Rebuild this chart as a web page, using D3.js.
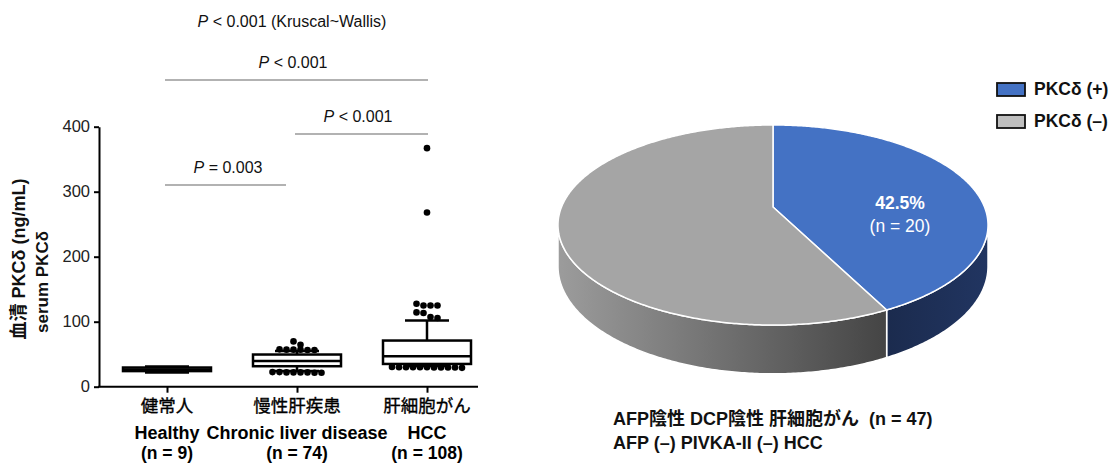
<!DOCTYPE html>
<html>
<head>
<meta charset="utf-8">
<script src="https://cdn.jsdelivr.net/npm/d3@7"></script>
<style>
  body { margin: 0; background: #fff; }
  svg { display: block; font-family: "Liberation Sans", Arial, "Noto Sans CJK JP", sans-serif; }
</style>
</head>
<body>
<div id="chart"></div>
<script>
// ---- data ----
var groups = ['Healthy', 'Chronic liver disease', 'HCC'];
var groupsJa = ['健常人', '慢性肝疾患', '肝細胞がん'];
var groupN = ['(n = 9)', '(n = 74)', '(n = 108)'];
var whiskerLow = [22, 24, 32];
var q1 = [24, 31.5, 35];
var median = [26.5, 39.5, 47];
var q3 = [29.5, 49.5, 71];
var whiskerHigh = [31, 55, 102];
var outliersHealthy = [];
var outliersChronic = [69.7, 64.5, 57.5, 57, 57, 56.5, 57, 56.5,
  22.5, 22, 22, 21.5, 21.5, 22, 22, 22.5];
var outliersHCC = [367, 268, 127.7, 125, 125, 125, 114.3, 113.4, 107.2, 105.7,
  30.5, 30, 30, 29.5, 29.5, 29, 29.5, 30, 30, 29.5, 30];
var yTicks = [0, 100, 200, 300, 400];
var comparisons = [
  { from: 0, to: 2, label: ' < 0.001', level: 2 },
  { from: 1, to: 2, label: ' < 0.001', level: 1 },
  { from: 0, to: 1, label: ' = 0.003', level: 0 }
];
var overallTest = ' < 0.001 (Kruscal~Wallis)';

var pieNames = ['PKCδ (+)', 'PKCδ (–)'];
var pieValues = [20, 27];
var pieLabel = ['42.5%', '(n = 20)'];
var caption = ['AFP陰性 DCP陰性 肝細胞がん  (n = 47)', 'AFP (–) PIVKA-II (–) HCC'];

// ---- setup ----
var W = 1115, H = 464;
var svg = d3.select('#chart').append('svg').attr('width', W).attr('height', H);

var y = d3.scaleLinear().domain([0, 400]).range([386.7, 126.7]);
var x = d3.scalePoint().domain(groups).range([167, 427]);

// y axis
var yAxis = svg.append('g')
  .attr('transform', 'translate(99,0)')
  .call(d3.axisLeft(y).tickValues(yTicks).tickSize(5).tickSizeOuter(0).tickPadding(4));
yAxis.select('.domain').attr('stroke-width', 2);
yAxis.selectAll('.tick line').attr('stroke-width', 2);
yAxis.selectAll('.tick text').attr('font-size', 16.5).attr('fill', '#222')
  .style('font-family', '"Liberation Sans", Arial, sans-serif');

// x axis
var xAxis = svg.append('g')
  .attr('transform', 'translate(0,' + y(0) + ')')
  .call(d3.axisBottom(x).tickSize(6).tickFormat(''));
xAxis.select('.domain').remove();
xAxis.selectAll('.tick line').attr('stroke-width', 2);
svg.append('line').attr('x1', 98).attr('x2', 478).attr('y1', y(0)).attr('y2', y(0))
  .attr('stroke', '#000').attr('stroke-width', 2);

// x labels
var xl = svg.append('g').selectAll('g').data(groups).join('g')
  .attr('transform', function(d) { return 'translate(' + x(d) + ',0)'; })
  .attr('text-anchor', 'middle').attr('fill', '#000');
xl.append('text').attr('y', 412).attr('font-size', 17.5)
  .style('font-family', '"Noto Sans CJK JP", sans-serif')
  .attr('stroke', '#000').attr('stroke-width', 0.35)
  .text(function(d, i) { return groupsJa[i]; });
xl.append('text').attr('y', 439).attr('font-size', 18).attr('font-weight', 'bold')
  .text(function(d) { return d; });
xl.append('text').attr('y', 459).attr('font-size', 17.5).attr('font-weight', 'bold')
  .text(function(d, i) { return groupN[i]; });

// y label
svg.append('text').attr('transform', 'translate(25,259) rotate(-90)')
  .attr('text-anchor', 'middle').attr('font-size', 18).attr('font-weight', 'bold').attr('fill', '#111')
  .text('血清 PKCδ (ng/mL)');
svg.append('text').attr('transform', 'translate(48,282) rotate(-90)')
  .attr('text-anchor', 'middle').attr('font-size', 17).attr('font-weight', 'bold').attr('fill', '#111')
  .text('serum PKCδ');

// boxes
var boxW = 88, capW = 44;
var boxes = groups.map(function(g, i) {
  return { g: g, lo: whiskerLow[i], q1: q1[i], med: median[i], q3: q3[i], hi: whiskerHigh[i] };
});
var bx = svg.append('g').selectAll('g').data(boxes).join('g')
  .attr('transform', function(d) { return 'translate(' + x(d.g) + ',0)'; })
  .attr('stroke', '#000').attr('stroke-width', 2.5).attr('fill', 'none');
bx.append('line').attr('y1', function(d) { return y(d.q3); }).attr('y2', function(d) { return y(d.hi); });
bx.append('line').attr('y1', function(d) { return y(d.q1); }).attr('y2', function(d) { return y(d.lo); });
bx.append('line').attr('x1', -capW / 2).attr('x2', capW / 2)
  .attr('y1', function(d) { return y(d.hi); }).attr('y2', function(d) { return y(d.hi); });
bx.append('line').attr('x1', -capW / 2).attr('x2', capW / 2)
  .attr('y1', function(d) { return y(d.lo); }).attr('y2', function(d) { return y(d.lo); });
bx.append('rect').attr('x', -boxW / 2).attr('width', boxW).attr('fill', '#fff')
  .attr('y', function(d) { return y(d.q3); })
  .attr('height', function(d) { return y(d.q1) - y(d.q3); });
bx.append('line').attr('x1', -boxW / 2).attr('x2', boxW / 2)
  .attr('y1', function(d) { return y(d.med); }).attr('y2', function(d) { return y(d.med); });

// outlier dots: simple row layout (dots with similar y are spread sideways)
function swarm(values, cx) {
  var sorted = values.slice().sort(d3.descending);
  var rows = [], out = [];
  sorted.forEach(function(v) {
    var last = rows[rows.length - 1];
    if (last && Math.abs(y(v) - y(last[0])) < 6) last.push(v);
    else rows.push([v]);
  });
  rows.forEach(function(r) {
    r.forEach(function(v, j) {
      out.push({ cx: cx + (j - (r.length - 1) / 2) * 7, cy: y(v) });
    });
  });
  return out;
}
var allDots = [outliersHealthy, outliersChronic, outliersHCC].reduce(function(acc, vals, i) {
  return acc.concat(swarm(vals, x(groups[i])));
}, []);
svg.append('g').selectAll('circle').data(allDots).join('circle')
  .attr('cx', function(d) { return d.cx; }).attr('cy', function(d) { return d.cy; })
  .attr('r', 3.3).attr('fill', '#000');

// significance brackets
var levelY = [185, 134, 80];
var br = svg.append('g').selectAll('g').data(comparisons).join('g');
br.append('line')
  .attr('x1', function(d) { return x(groups[d.from]) - 2; })
  .attr('x2', function(d) { return d.to - d.from === 1 && d.from === 0 ? x(groups[d.to]) - 11 : x(groups[d.to]) + 1; })
  .attr('y1', function(d) { return levelY[d.level]; }).attr('y2', function(d) { return levelY[d.level]; })
  .attr('stroke', '#666').attr('stroke-width', 1.2);
var bt = br.append('text')
  .attr('x', function(d) { return (x(groups[d.from]) + x(groups[d.to])) / 2 - 4; })
  .attr('y', function(d) { return levelY[d.level] - 12; })
  .attr('text-anchor', 'middle').attr('font-size', 16).attr('fill', '#111');
bt.append('tspan').attr('font-style', 'italic').text('P');
bt.append('tspan').text(function(d) { return d.label; });
var kw = svg.append('text').attr('x', 292).attr('y', 27).attr('text-anchor', 'middle')
  .attr('font-size', 16).attr('fill', '#111');
kw.append('tspan').attr('font-style', 'italic').text('P');
kw.append('tspan').text(overallTest);

// ---- 3D pie ----
var pcx = 773, pcy = 207, A = 211.5, B = 96.8, K = 0.18, depth = 40;
function proj(t, drop) {
  var a = Math.sin(t), b = -Math.cos(t), w = 1 - K * b;
  return [pcx + A * a / w, pcy + B * b / w + (drop || 0) / w];
}
function arcPts(t0, t1, drop) {
  var n = Math.max(2, Math.ceil(Math.abs(t1 - t0) / 0.01)), pts = [];
  for (var i = 0; i <= n; i++) pts.push(proj(t0 + (t1 - t0) * i / n, drop));
  return pts;
}
var arcs = d3.pie().sort(null)(pieValues);
var topColors = ['#4472c4', '#a5a5a5'];
var defs = svg.append('defs');
var gsd = defs.append('linearGradient').attr('id', 'graySide')
  .attr('gradientUnits', 'userSpaceOnUse').attr('x1', 558).attr('x2', 888).attr('y1', 0).attr('y2', 0);
gsd.append('stop').attr('offset', 0).attr('stop-color', '#9c9c9c');
gsd.append('stop').attr('offset', 1).attr('stop-color', '#444');
var bsd = defs.append('linearGradient').attr('id', 'blueSide')
  .attr('gradientUnits', 'userSpaceOnUse').attr('x1', 888).attr('x2', 988).attr('y1', 0).attr('y2', 0);
bsd.append('stop').attr('offset', 0).attr('stop-color', '#1b2b4e');
bsd.append('stop').attr('offset', 1).attr('stop-color', '#213561');
var sideFill = ['url(#blueSide)', 'url(#graySide)'];

// visible side spans between the left-most and right-most outline points
var tRight = Math.PI - Math.acos(K), tLeft = Math.PI + Math.acos(K);
var line = d3.line();
var pieG = svg.append('g');
arcs.forEach(function(a, i) {
  var s = Math.max(a.startAngle, tRight), e = Math.min(a.endAngle, tLeft);
  if (e <= s) return;
  var pts = arcPts(s, e, 0).concat(arcPts(e, s, depth));
  pieG.append('path').attr('d', line(pts) + 'Z').attr('fill', sideFill[i])
    .attr('stroke', '#fff').attr('stroke-width', 1.5).attr('stroke-linejoin', 'round');
});
arcs.forEach(function(a, i) {
  var pts = [[pcx, pcy]].concat(arcPts(a.startAngle, a.endAngle, 0));
  pieG.append('path').attr('d', line(pts) + 'Z').attr('fill', topColors[i])
    .attr('stroke', '#fff').attr('stroke-width', 1.5).attr('stroke-linejoin', 'round');
});
pieG.append('text').attr('x', 900).attr('y', 209).attr('text-anchor', 'middle')
  .attr('font-size', 17.5).attr('font-weight', 'bold').attr('fill', '#fff').text(pieLabel[0]);
pieG.append('text').attr('x', 900).attr('y', 232).attr('text-anchor', 'middle')
  .attr('font-size', 17.5).attr('fill', '#fff').text(pieLabel[1]);

// legend
var legendColors = ['#4472c4', '#bfbfbf'];
var lg = svg.append('g').selectAll('g').data(pieNames).join('g')
  .attr('transform', function(d, i) { return 'translate(997,' + (83 + i * 32) + ')'; });
lg.append('rect').attr('width', 28).attr('height', 13)
  .attr('fill', function(d, i) { return legendColors[i]; })
  .attr('stroke', '#111').attr('stroke-width', 1.8);
lg.append('text').attr('x', 37).attr('y', 12).attr('font-size', 17.5).attr('font-weight', 'bold')
  .attr('fill', '#111').text(function(d) { return d; });

// caption
svg.append('g').selectAll('text').data(caption).join('text')
  .attr('x', 613).attr('y', function(d, i) { return 425 + i * 24; })
  .attr('font-size', 18).attr('font-weight', 'bold').attr('fill', '#111')
  .style('white-space', 'pre')
  .text(function(d) { return d; });
</script>
</body>
</html>
